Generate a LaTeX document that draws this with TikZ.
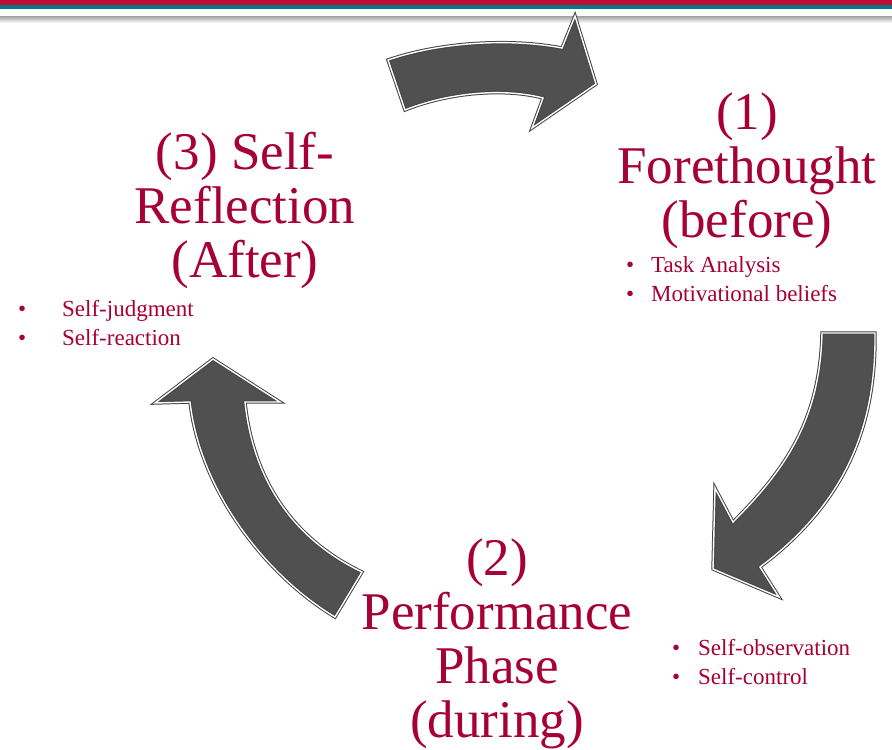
\documentclass[tikz,border=0pt]{standalone}
\usepackage{fontspec}
\setmainfont{Liberation Serif}
\usepackage{xcolor}

\definecolor{phasered}{RGB}{166,0,52}
\definecolor{bandred}{RGB}{190,14,50}
\definecolor{bandteal}{RGB}{0,122,134}
\definecolor{arrowgray}{RGB}{80,80,80}

\newcommand{\pbul}[1]{\makebox[#1][l]{\textbullet}}

\tikzset{
  phase/.style={text=phasered, align=center, anchor=base, inner sep=0pt,
    font=\fontsize{53}{54}\selectfont},
  bul/.style={text=phasered, anchor=base west, inner sep=0pt,
    font=\fontsize{23}{29}\selectfont},
  bigarrow/.style={fill=arrowgray, draw=arrowgray!85!black, line width=1pt,
    double=white, double distance=1.4pt, line join=miter}
}

\begin{document}
\begin{tikzpicture}[x=1pt, y=-1pt]
  \useasboundingbox (0,0) rectangle (892,750);
  % header stripes
  \fill[bandred] (0,0) rectangle (892,5);
  \fill[bandteal] (0,5) rectangle (892,9);
  \shade[top color=gray!75, bottom color=white] (0,16) rectangle (892,23);

  % the three curved arrows of the cycle
  \path[bigarrow] (388,60) .. controls (440,42) and (510,38) .. (562,48)
    -- (575,16) -- (596,84) -- (532,128) -- (543,98)
    .. controls (505,88) and (450,92) .. (405,110) -- cycle;
  \path[bigarrow] (875,333) .. controls (876,420) and (850,500) .. (760,567)
    -- (779,597) -- (713,569) -- (715,488) -- (733,522)
    .. controls (785,470) and (820,420) .. (822,333) -- cycle;
  \path[bigarrow] (335,617) .. controls (265,575) and (200,490) .. (190,402)
    -- (155,403) -- (213,359) -- (280,402) -- (245,402)
    .. controls (252,470) and (285,535) .. (362,572) -- cycle;

  % phases (anchored on the last line)
  \node[phase] (fore) at (747,237) {(1)\\Forethought\\(before)};
  \node[phase] (perf) at (497,737) {(2)\\Performance\\Phase\\(during)};
  \node[phase] (refl) at (245,277) {(3) Self-\\Reflection\\(After)};

  % sub-processes
  \node[bul] (task) at (626,272) {\pbul{25pt}Task Analysis};
  \node[bul] (motiv) at (626,301) {\pbul{25pt}Motivational beliefs};
  \node[bul] (judg) at (18,316) {\pbul{44pt}Self-judgment};
  \node[bul] (react) at (18,345) {\pbul{44pt}Self-reaction};
  \node[bul] (obs) at (672,655) {\pbul{26pt}Self-observation};
  \node[bul] (ctrl) at (672,684) {\pbul{26pt}Self-control};
\end{tikzpicture}
\end{document}
